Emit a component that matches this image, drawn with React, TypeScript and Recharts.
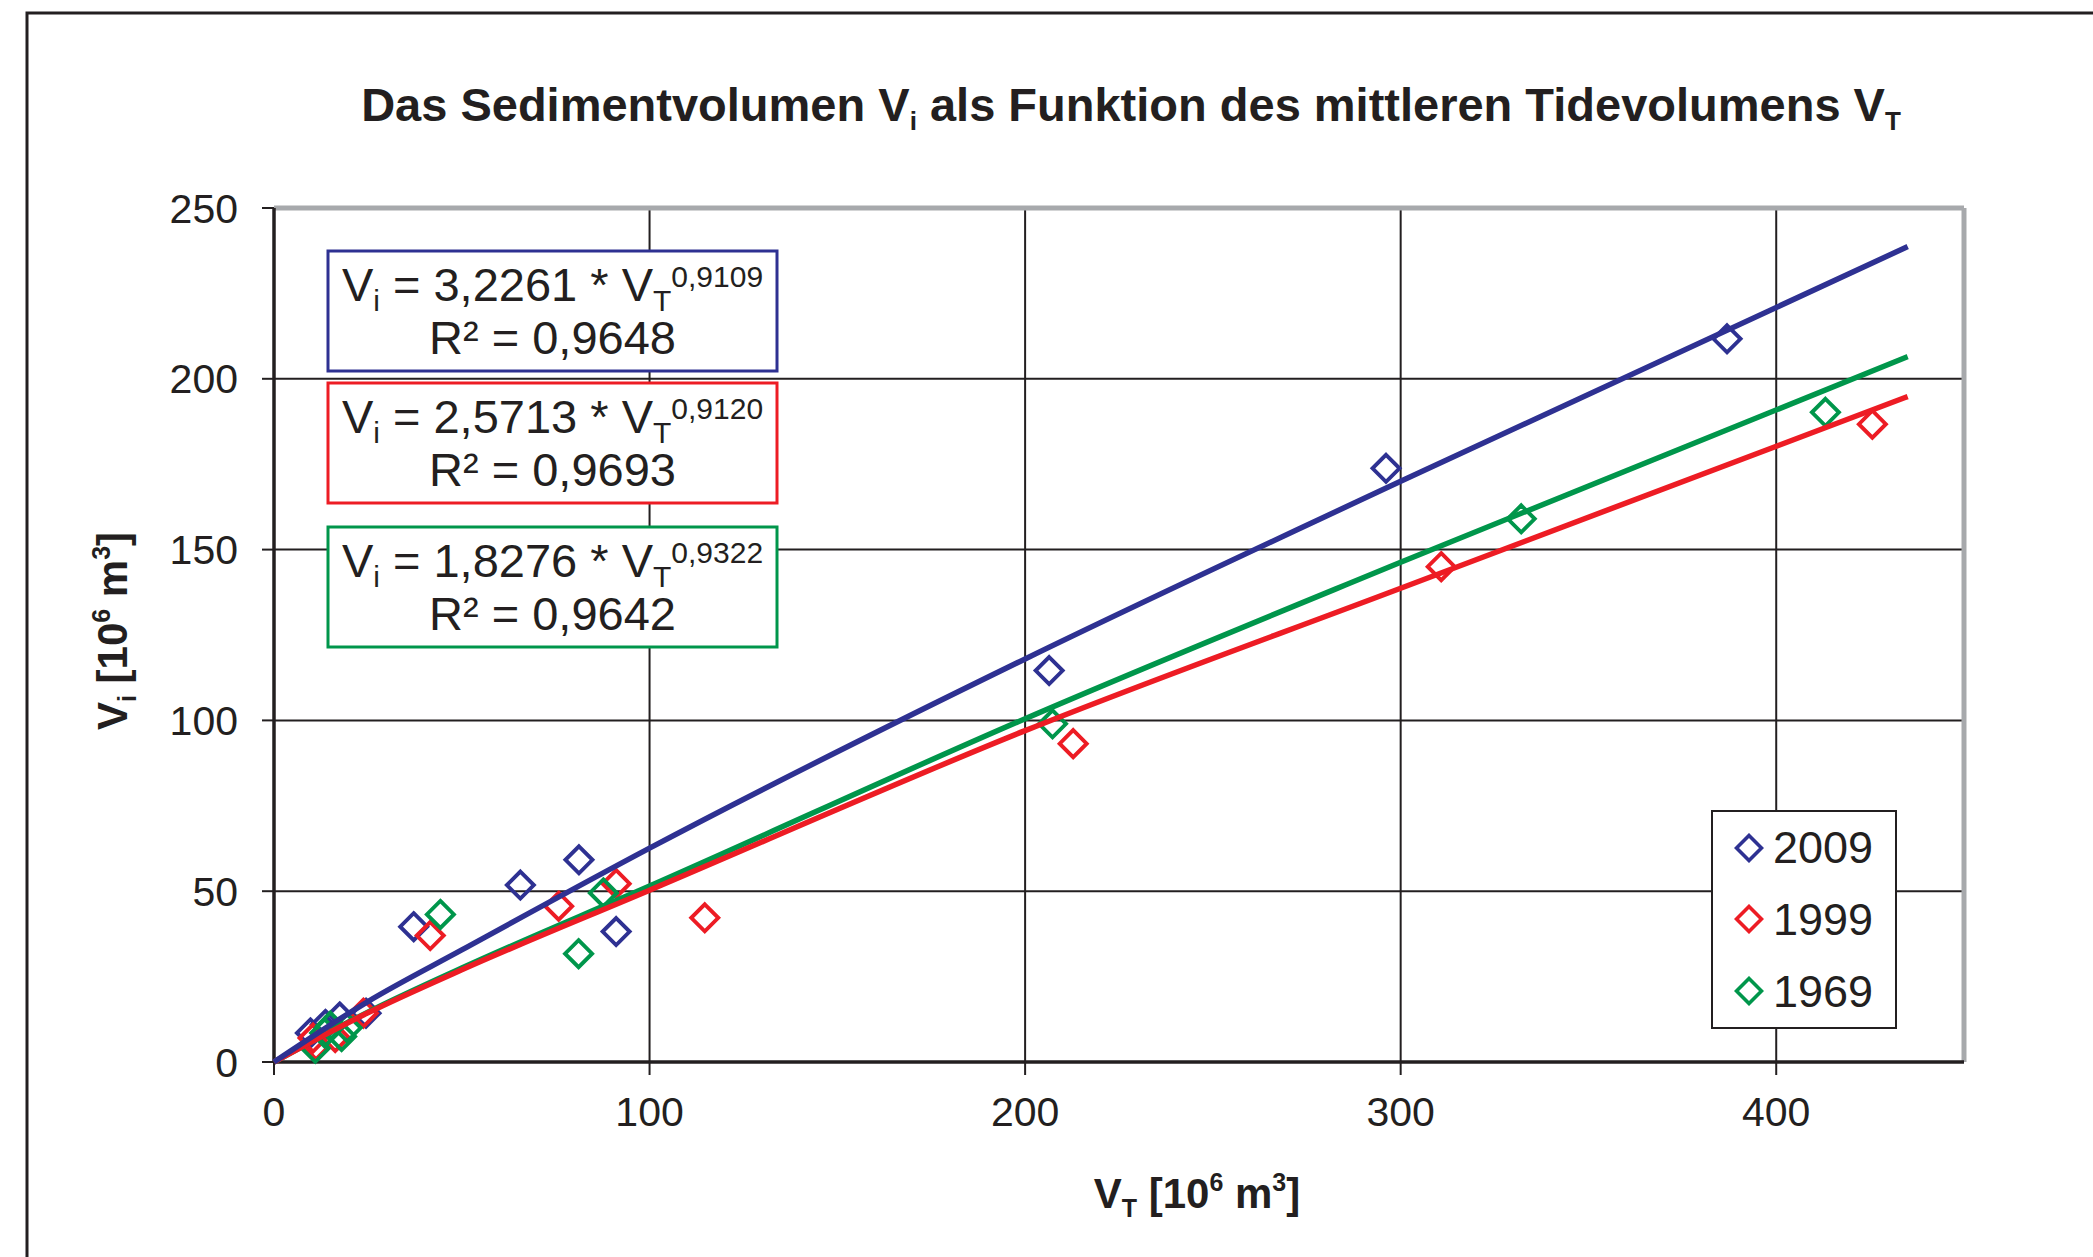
import {
  CartesianGrid,
  Legend,
  ReferenceLine,
  Scatter,
  ScatterChart,
  XAxis,
  YAxis,
} from "recharts";

const W = 2093;
const H = 1257;
const FONT = '"Liberation Sans", Arial, Helvetica, sans-serif';
const INK = "#231f20";
const FRAME_GREY = "#a7a9ac";

const X_TICKS = [0, 100, 200, 300, 400];
const Y_TICKS = [0, 50, 100, 150, 200, 250];

// measured points (VT, Vi) per survey year
const X_2009 = [9.7, 13.7, 17.5, 24.5, 37.2, 65.6, 81.2, 91.1, 206.4, 296.1, 386.9];
const Y_2009 = [8.5, 11.0, 13.2, 14.3, 39.6, 51.8, 59.2, 38.2, 114.6, 173.8, 211.7];

const X_1999 = [10.4, 11.2, 16.3, 23.8, 41.6, 75.8, 91.1, 114.7, 212.8, 310.8, 425.6];
const Y_1999 = [7.0, 4.8, 7.2, 14.3, 37.0, 45.6, 52.2, 42.2, 93.2, 145.0, 186.7];

const X_1969 = [11.0, 13.5, 15.0, 18.0, 19.5, 44.3, 81.1, 87.7, 207.3, 332.1, 413.1];
const Y_1969 = [4.0, 8.5, 10.5, 7.5, 10.0, 43.2, 31.7, 49.5, 99.0, 159.0, 190.2];

// power trend lines
const TREND_X = [0, 25, 50, 100, 200, 300, 435];
const TREND_2009 = [0, 17.7, 32.8, 62.6, 118, 170, 238.7];
const TREND_1999 = [0, 14.4, 27.0, 50.3, 97, 138.7, 194.8];
const TREND_1969 = [0, 14.6, 27.5, 51.5, 100.5, 146.3, 206.5];

const EQ_A = ["3,2261", "2,5713", "1,8276"];
const EQ_B = ["0,9109", "0,9120", "0,9322"];
const EQ_R2 = ["0,9648", "0,9693", "0,9642"];
const EQ_TOP = [251, 383, 527];

const COLORS = { "2009": "#2e3192", "1999": "#ed1c24", "1969": "#00964b" };
const SERIES = ["2009", "1999", "1969"] as const;

const toPoints = (xs: number[], ys: number[]) => xs.map((x, i) => ({ x, y: ys[i] }));

const diamondPath = (cx: number, cy: number, r: number) =>
  `M${cx},${cy - r} L${cx + r},${cy} L${cx},${cy + r} L${cx - r},${cy} Z`;

const diamondShape = (color: string) => (props: any) => {
  const { cx, cy } = props;
  if (cx == null || cy == null) return <g />;
  return <path d={diamondPath(cx, cy, 13.5)} fill="none" stroke={color} strokeWidth={3.9} />;
};

const noShape = () => <g />;

function LegendBox() {
  return (
    <div
      style={{
        width: 186,
        height: 219,
        boxSizing: "border-box",
        border: `2px solid ${INK}`,
        background: "#fff",
        fontFamily: FONT,
      }}
    >
      {SERIES.map((name) => (
        <div key={name} style={{ height: 71.67, display: "flex", alignItems: "center" }}>
          <svg width={30} height={30} style={{ marginLeft: 21, display: "block" }}>
            <path d={diamondPath(15, 15, 12.5)} fill="none" stroke={COLORS[name]} strokeWidth={3.6} />
          </svg>
          <span style={{ marginLeft: 9, fontSize: 45, lineHeight: 1, color: INK }}>{name}</span>
        </div>
      ))}
    </div>
  );
}

function EqBox({ i }: { i: number }) {
  const top = EQ_TOP[i];
  const color = COLORS[SERIES[i]];
  return (
    <g>
      <rect x={328} y={top} width={449} height={120} fill="#fff" stroke={color} strokeWidth={3} />
      <text x={552.5} y={top + 50} textAnchor="middle" fontSize={47} fill={INK}>
        V<tspan fontSize={30} dy={10}>i</tspan>
        <tspan dy={-10}>{` = ${EQ_A[i]} * V`}</tspan>
        <tspan fontSize={30} dy={10}>T</tspan>
        <tspan fontSize={30} dy={-24}>{EQ_B[i]}</tspan>
      </text>
      <text x={552.5} y={top + 103} textAnchor="middle" fontSize={47} fill={INK}>
        {`R² = ${EQ_R2[i]}`}
      </text>
    </g>
  );
}

export default function App() {
  const tick = { fill: INK, fontSize: 41, fontFamily: FONT };
  return (
    <div
      style={{
        position: "absolute",
        left: 0,
        top: 0,
        width: W,
        height: H,
        overflow: "hidden",
        background: "#fff",
        fontFamily: FONT,
      }}
    >
      <ScatterChart width={W} height={H} margin={{ top: 208, right: 129, bottom: 125, left: 174 }}>
        <CartesianGrid stroke={INK} strokeWidth={2} fill="none" />
        <XAxis
          type="number"
          dataKey="x"
          domain={[0, 450]}
          ticks={X_TICKS}
          interval={0}
          height={70}
          tickSize={13}
          tickMargin={22}
          axisLine={{ stroke: INK, strokeWidth: 3.5 }}
          tickLine={{ stroke: INK, strokeWidth: 2 }}
          tick={tick}
        />
        <YAxis
          type="number"
          dataKey="y"
          domain={[0, 250]}
          ticks={Y_TICKS}
          interval={0}
          width={100}
          tickSize={12}
          tickMargin={24}
          axisLine={{ stroke: INK, strokeWidth: 3.5 }}
          tickLine={{ stroke: INK, strokeWidth: 2 }}
          tick={tick}
        />
        <ReferenceLine y={250} stroke={FRAME_GREY} strokeWidth={5} />
        <ReferenceLine x={450} stroke={FRAME_GREY} strokeWidth={5} />

        <Scatter name="2009" data={toPoints(X_2009, Y_2009)} fill={COLORS["2009"]} shape={diamondShape(COLORS["2009"])} isAnimationActive={false} />
        <Scatter name="1999" data={toPoints(X_1999, Y_1999)} fill={COLORS["1999"]} shape={diamondShape(COLORS["1999"])} isAnimationActive={false} />
        <Scatter name="1969" data={toPoints(X_1969, Y_1969)} fill={COLORS["1969"]} shape={diamondShape(COLORS["1969"])} isAnimationActive={false} />

        <Scatter
          name="trend 1969"
          data={toPoints(TREND_X, TREND_1969)}
          line={{ stroke: COLORS["1969"], strokeWidth: 5.5 }}
          lineJointType="monotoneX"
          shape={noShape}
          legendType="none"
          isAnimationActive={false}
        />
        <Scatter
          name="trend 1999"
          data={toPoints(TREND_X, TREND_1999)}
          line={{ stroke: COLORS["1999"], strokeWidth: 5.5 }}
          lineJointType="monotoneX"
          shape={noShape}
          legendType="none"
          isAnimationActive={false}
        />
        <Scatter
          name="trend 2009"
          data={toPoints(TREND_X, TREND_2009)}
          line={{ stroke: COLORS["2009"], strokeWidth: 5.5 }}
          lineJointType="monotoneX"
          shape={noShape}
          legendType="none"
          isAnimationActive={false}
        />

        <Legend
          layout="vertical"
          align="center"
          verticalAlign="middle"
          content={() => <LegendBox />}
          wrapperStyle={{ left: 1711, top: 810, width: 186, height: 219 }}
        />
      </ScatterChart>

      <svg
        width={W}
        height={H}
        style={{ position: "absolute", left: 0, top: 0, pointerEvents: "none" }}
        fontFamily={FONT}
      >
        {/* outer frame, runs off the page right and bottom */}
        <path d={`M27,${H} L27,13 L${W},13`} fill="none" stroke={INK} strokeWidth={3} />

        <text x={1131} y={121} textAnchor="middle" fontSize={47} fontWeight="bold" fill={INK}>
          Das Sedimentvolumen V<tspan fontSize={26} dy={9}>i</tspan>
          <tspan dy={-9}>{" als Funktion des mittleren Tidevolumens V"}</tspan>
          <tspan fontSize={26} dy={9}>T</tspan>
        </text>

        {[0, 1, 2].map((i) => (
          <EqBox key={i} i={i} />
        ))}

        <text x={1197} y={1208} textAnchor="middle" fontSize={42} fontWeight="bold" fill={INK}>
          V<tspan fontSize={25} dy={9}>T</tspan>
          <tspan dy={-9}>{" [10"}</tspan>
          <tspan fontSize={25} dy={-17}>6</tspan>
          <tspan dy={17}>{" m"}</tspan>
          <tspan fontSize={25} dy={-17}>3</tspan>
          <tspan dy={17}>]</tspan>
        </text>

        <text
          x={127}
          y={631}
          transform="rotate(-90 127 631)"
          textAnchor="middle"
          fontSize={42}
          fontWeight="bold"
          fill={INK}
        >
          V<tspan fontSize={25} dy={9}>i</tspan>
          <tspan dy={-9}>{" [10"}</tspan>
          <tspan fontSize={25} dy={-17}>6</tspan>
          <tspan dy={17}>{" m"}</tspan>
          <tspan fontSize={25} dy={-17}>3</tspan>
          <tspan dy={17}>]</tspan>
        </text>
      </svg>
    </div>
  );
}
